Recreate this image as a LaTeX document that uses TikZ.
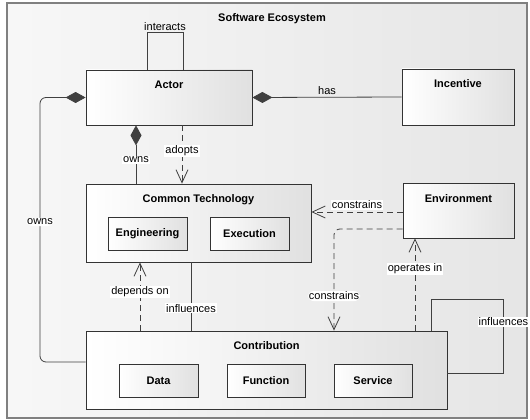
\documentclass[tikz,border=0pt]{standalone}
\usepackage{fontspec}
\setmainfont{Liberation Sans}
\usetikzlibrary{arrows.meta}
\begin{document}
\begin{tikzpicture}[x=1pt,y=-1pt,
		every node/.style={font=\fontsize{11}{13}\selectfont},
		cls/.style={draw=black!80,line width=0.8pt,left color=white,right color=black!12,minimum width=#1,anchor=center},
		part/.style={cls=#1,minimum height=33pt,font=\fontsize{11}{13}\selectfont\bfseries},
		lbl/.style={fill=white,inner sep=1pt},
		line/.style={draw=black!75,line width=0.8pt},
		owns/.style={line,{Diamond[length=20pt,width=11pt]}-},
		dep/.style={line,dash pattern=on 6pt off 4pt,-{Straight Barb[length=13pt,width=12pt]}}]
		%	\draw[help lines] (0,0) grid[step=10] (530,420);
			\useasboundingbox (0,0) rectangle (530,420);
			\draw[draw=black!50,line width=1.2pt,left color=black!3,right color=black!10] (7,3) rectangle (527,418);
			\node[font=\fontsize{11}{13}\selectfont\bfseries] (title) at (272,19) {Software Ecosystem};
			% classes
			\node[cls=166pt,minimum height=55pt,label={[anchor=north,yshift=-11pt,inner sep=0pt,font=\fontsize{11}{13}\selectfont\bfseries]north:Actor}] (actor) at (169,97.5) {};
			\node[cls=112pt,minimum height=56pt,label={[anchor=north,yshift=-11pt,inner sep=0pt,font=\fontsize{11}{13}\selectfont\bfseries]north:Incentive}] (incentive) at (458,97) {};
			\node[cls=225pt,minimum height=78pt,label={[anchor=north,yshift=-11pt,inner sep=0pt,font=\fontsize{11}{13}\selectfont\bfseries]north:Common Technology}] (commtech) at (198.5,223) {};
			\node[cls=111pt,minimum height=55pt,label={[anchor=north,yshift=-12pt,inner sep=0pt,font=\fontsize{11}{13}\selectfont\bfseries]north:Environment}] (env) at (458.5,210.5) {};
			\node[cls=361pt,minimum height=78pt,label={[anchor=north,yshift=-11pt,inner sep=0pt,font=\fontsize{11}{13}\selectfont\bfseries]north:Contribution}] (contrib) at (266.5,370) {};
			\node[part=79pt] (engineering) at (147.5,233.5) {Engineering};
			\node[part=79pt] (execution) at (249.5,233.5) {Execution};
			\node[part=79pt] (data) at (158.5,380.5) {Data};
			\node[part=78pt] (function) at (266,380.5) {Function};
			\node[part=78pt] (service) at (373,380.5) {Service};
			% relations
			\draw[line] ([xshift=-22pt]actor.north) -- ++(0,-37) -- ++(36,0) node[midway,above,yshift=1pt,inner sep=1pt] {interacts} -- ([xshift=14pt]actor.north);
			\draw[owns] (actor.east) -- (incentive.west) node[midway,above,inner sep=2pt] {has};
			\draw[owns] ([xshift=-33pt]actor.south) -- ([xshift=-33pt]actor.south |- commtech.north) node[lbl,pos=0.59] {owns};
			\draw[dep] ([xshift=13pt]actor.south) -- ([xshift=13pt]actor.south |- commtech.north) node[lbl,pos=0.44] {adopts};
			\draw[owns,rounded corners=6pt] (actor.west) -| (40,222) node[lbl] {owns} |- ([yshift=8pt]contrib.west);
			\draw[dep] ([xshift=-58.5pt]commtech.south |- contrib.north) -- ([xshift=-58.5pt]commtech.south) node[lbl,pos=0.57] {depends on};
			\draw[line] ([xshift=-7.5pt]commtech.south) -- ([xshift=-7.5pt]commtech.south |- contrib.north) node[lbl,pos=0.67] {influences};
			\draw[dep] ([yshift=-1.5pt]env.west) -- ([yshift=-1.5pt]env.west -| commtech.east) node[midway,above,yshift=2pt,lbl] {constrains};
			\draw[dep,rounded corners=6pt] ([yshift=-18.5pt]env.west) -| ([xshift=67.5pt]contrib.north) node[lbl,pos=0.83] {constrains};
			\draw[dep] ([xshift=-43.5pt]env.south |- contrib.north) -- ([xshift=-43.5pt]env.south) node[lbl,pos=0.67] {operates in};
			\draw[line] ([yshift=-3pt]contrib.east) -- ++(56,0) -- ++(0,-74) node[lbl,pos=0.69] {influences} -| ([xshift=164.5pt]contrib.north);
		\end{tikzpicture}
\end{document}
